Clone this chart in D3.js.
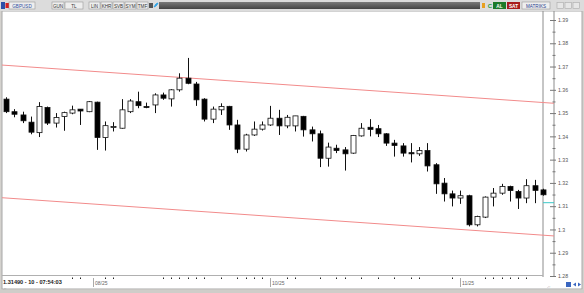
<!DOCTYPE html>
<html>
<head>
<meta charset="utf-8">
<script src="https://cdn.jsdelivr.net/npm/d3@7"></script>
<style>
  body { margin: 0; background: #d4d2ce; }
  svg { display: block; font-family: "Liberation Sans", Arial, sans-serif; }
</style>
</head>
<body>
<svg id="chart"></svg>
<script>
// GBPUSD candles, oldest first
const opens  = [1.3560,1.3506,1.3492,1.3461,1.3416,1.3524,1.3457,1.3485,1.3500,1.3517,1.3506,1.3547,1.3395,1.3438,1.3435,1.3506,1.3549,1.3528,1.3535,1.3578,1.3561,1.3600,1.3650,1.3625,1.3560,1.3474,1.3514,1.3529,1.3449,1.3345,1.3406,1.3431,1.3449,1.3478,1.3445,1.3445,1.3486,1.3428,1.3411,1.3306,1.3349,1.3342,1.3328,1.3402,1.3439,1.3433,1.3411,1.3371,1.3359,1.3330,1.3325,1.3339,1.3278,1.3199,1.3153,1.3135,1.3145,1.3020,1.3053,1.3139,1.3156,1.3185,1.3163,1.3135,1.3188,1.3170];
const highs  = [1.3568,1.3517,1.3506,1.3485,1.3547,1.3528,1.3500,1.3506,1.3532,1.3517,1.3552,1.3549,1.3464,1.3461,1.3560,1.3560,1.3592,1.3545,1.3585,1.3588,1.3603,1.3671,1.3737,1.3634,1.3564,1.3528,1.3542,1.3531,1.3471,1.3411,1.3464,1.3464,1.3531,1.3514,1.3492,1.3488,1.3488,1.3442,1.3425,1.3373,1.3364,1.3354,1.3406,1.3457,1.3474,1.3449,1.3414,1.3385,1.3371,1.3371,1.3354,1.3371,1.3285,1.3221,1.3167,1.3167,1.3149,1.3059,1.3142,1.3178,1.3196,1.3188,1.3170,1.3216,1.3213,1.3175];
const lows   = [1.3500,1.3482,1.3457,1.3409,1.3397,1.3449,1.3438,1.3424,1.3495,1.3449,1.3504,1.3342,1.3339,1.3421,1.3433,1.3500,1.3521,1.3521,1.3500,1.3557,1.3528,1.3592,1.3624,1.3531,1.3464,1.3457,1.3492,1.3428,1.3328,1.3335,1.3402,1.3425,1.3445,1.3406,1.3435,1.3421,1.3399,1.3378,1.3268,1.3270,1.3328,1.3253,1.3325,1.3399,1.3400,1.3397,1.3359,1.3313,1.3313,1.3288,1.3316,1.3249,1.3153,1.3120,1.3099,1.3110,1.3013,1.3013,1.3049,1.3099,1.3149,1.3120,1.3088,1.3113,1.3113,1.3145];
const closes = [1.3506,1.3495,1.3467,1.3418,1.3528,1.3457,1.3481,1.3502,1.3514,1.3509,1.3549,1.3395,1.3446,1.3442,1.3514,1.3552,1.3532,1.3524,1.3578,1.3564,1.3600,1.3650,1.3628,1.3557,1.3474,1.3517,1.3528,1.3449,1.3345,1.3406,1.3431,1.3449,1.3478,1.3445,1.3482,1.3488,1.3428,1.3411,1.3306,1.3354,1.3339,1.3325,1.3404,1.3435,1.3430,1.3411,1.3371,1.3361,1.3328,1.3325,1.3339,1.3273,1.3196,1.3153,1.3135,1.3145,1.3020,1.3056,1.3139,1.3156,1.3185,1.3167,1.3135,1.3188,1.3168,1.3149];

// price axis
const priceTicks = [1.28,1.29,1.30,1.31,1.32,1.33,1.34,1.35,1.36,1.37,1.38,1.39];
// time axis: candle indexes that carry a dot, and month labels
const dotTicks = [8,9,12,13,19,20,21,22,23,24,26,28,29,30,31,34,35,38,40,41,43,45,47,49,50,54,58,59,60,61,62,63];
const monthAt = [10.5, 32, 55];
const monthNames = ["08/25", "10/25", "11/25"];

// channel lines, [candle index, price]
const upperChannel = [[-0.75, 1.3707], [66.4, 1.3542]];
const lowerChannel = [[-0.75, 1.3137], [66.4, 1.2972]];
const lastMark = 1.3115;
const statusText = "1.31490 - 10 - 07:54:03";

const W = 584, H = 293;
const plot = { left: 2, top: 11, right: 543, bottom: 275.5 };
const axisX = 554;

const svg = d3.select("#chart").attr("width", W).attr("height", H);

const x = d3.scaleLinear().domain([0, opens.length - 1]).range([6, 543]);
const y = d3.scaleLinear().domain([1.28, 1.39]).range([276, 20]);

// frame
svg.append("rect").attr("width", W).attr("height", H).attr("fill", "#d4d2ce");
svg.append("rect").attr("x", 2).attr("y", 11).attr("width", 580).attr("height", 278)
  .attr("fill", "#fff").attr("stroke", "#a8a8a8").attr("stroke-width", 1);

// toolbar
const bar = svg.append("g");
bar.append("rect").attr("x", 0).attr("y", 0).attr("width", W).attr("height", 11).attr("fill", "#dcdcdc");
const grad = svg.append("defs").append("linearGradient").attr("id", "dark").attr("x2", 0).attr("y2", 1);
grad.append("stop").attr("offset", 0).attr("stop-color", "#7a7a7a");
grad.append("stop").attr("offset", 1).attr("stop-color", "#444");
bar.append("rect").attr("x", 159).attr("y", 2).attr("width", 321).attr("height", 7).attr("fill", "url(#dark)");
bar.append("rect").attr("x", 1).attr("y", 2).attr("width", 4).attr("height", 7).attr("fill", "#2b4fa8");
bar.append("rect").attr("x", 5.5).attr("y", 3).attr("width", 3.5).attr("height", 5).attr("fill", "#d42020");

const buttons = [
  { x: 9, w: 26, t: "GBPUSD", c: "#3050a0" },
  { x: 52, w: 12, t: "GUN", c: "#333" },
  { x: 65, w: 18, t: "TL", c: "#333" },
  { x: 89, w: 11, t: "LIN", c: "#333" },
  { x: 101, w: 11, t: "KHR", c: "#333" },
  { x: 113, w: 11, t: "SVB", c: "#333" },
  { x: 125, w: 11, t: "SYM", c: "#333" },
  { x: 137, w: 11, t: "TMF", c: "#333" },
  { x: 522, w: 28, t: "MATRIKS", c: "#2a3f8f" }
];
buttons.forEach(b => {
  bar.append("rect").attr("x", b.x).attr("y", 2).attr("width", b.w).attr("height", 7)
    .attr("fill", "#eee").attr("stroke", "#999").attr("stroke-width", 0.6);
  bar.append("text").attr("x", b.x + b.w / 2).attr("y", 7.6).attr("text-anchor", "middle")
    .attr("font-size", 4.6).attr("fill", b.c).text(b.t);
});
bar.append("rect").attr("x", 149).attr("y", 3).attr("width", 4).attr("height", 5).attr("fill", "#555");
bar.append("path").attr("d", "M154,7 q3,-1 4,-4 l-2,1 z").attr("fill", "#2ea3e6").attr("stroke", "#2ea3e6");
bar.append("rect").attr("x", 482).attr("y", 3).attr("width", 3).attr("height", 5).attr("fill", "#e8a020");
bar.append("text").attr("x", 490).attr("y", 8).attr("text-anchor", "middle").attr("font-size", 6)
  .attr("font-weight", "bold").attr("fill", "#2a9a40").text("C");
bar.append("rect").attr("x", 493).attr("y", 2).attr("width", 13).attr("height", 7).attr("fill", "#1d7a2a");
bar.append("text").attr("x", 499.5).attr("y", 7.6).attr("text-anchor", "middle").attr("font-size", 4.8)
  .attr("font-weight", "bold").attr("fill", "#fff").text("AL");
bar.append("rect").attr("x", 507).attr("y", 2).attr("width", 13).attr("height", 7).attr("fill", "#a81c1c");
bar.append("text").attr("x", 513.5).attr("y", 7.6).attr("text-anchor", "middle").attr("font-size", 4.8)
  .attr("font-weight", "bold").attr("fill", "#fff").text("SAT");
[557, 565, 573].forEach(bx => {
  bar.append("rect").attr("x", bx).attr("y", 2.5).attr("width", 6.5).attr("height", 6)
    .attr("fill", "#e6e6e6").attr("stroke", "#aaa").attr("stroke-width", 0.6);
});

// plot borders
svg.append("line").attr("x1", plot.right).attr("x2", plot.right).attr("y1", plot.top).attr("y2", 277)
  .attr("stroke", "#8c8c8c");
svg.append("line").attr("x1", axisX).attr("x2", axisX).attr("y1", plot.top).attr("y2", 277)
  .attr("stroke", "#8c8c8c");
svg.append("line").attr("x1", plot.left).attr("x2", plot.right).attr("y1", plot.bottom).attr("y2", plot.bottom)
  .attr("stroke", "#b0b0b0");

// channel lines
svg.append("clipPath").attr("id", "clip").append("rect")
  .attr("x", plot.left).attr("y", plot.top).attr("width", axisX - plot.left).attr("height", plot.bottom - plot.top);
const line = d3.line().x(d => x(d[0])).y(d => y(d[1]));
[upperChannel, lowerChannel].forEach(ch => {
  svg.append("path").attr("clip-path", "url(#clip)").attr("d", line(ch))
    .attr("fill", "none").attr("stroke", "#f28b8b").attr("stroke-width", 1);
});

// candles
const candles = opens.map((o, i) => ({ i, o, h: highs[i], l: lows[i], c: closes[i] }));
const g = svg.append("g").attr("clip-path", "url(#clip)");
const bodyW = 5;
g.selectAll("line.wick").data(candles).enter().append("line")
  .attr("class", "wick")
  .attr("x1", d => Math.round(x(d.i)) + 0.5).attr("x2", d => Math.round(x(d.i)) + 0.5)
  .attr("y1", d => y(d.h)).attr("y2", d => y(d.l))
  .attr("stroke", "#111").attr("stroke-width", 1);
g.selectAll("rect.body").data(candles).enter().append("rect")
  .attr("class", "body")
  .attr("x", d => Math.round(x(d.i)) - 2)
  .attr("y", d => y(Math.max(d.o, d.c)))
  .attr("width", bodyW)
  .attr("height", d => Math.max(1, Math.abs(y(d.o) - y(d.c))))
  .attr("fill", d => d.c < d.o ? "#000" : "#fff")
  .attr("stroke", "#111").attr("stroke-width", 0.8);

// last price mark
svg.append("line").attr("x1", plot.right).attr("x2", axisX).attr("y1", y(lastMark)).attr("y2", y(lastMark))
  .attr("stroke", "#3cc8c8");

// price axis
const yAxis = svg.append("g").attr("transform", `translate(${axisX - 4},0)`)
  .call(d3.axisRight(y).tickValues(priceTicks).tickSize(6).tickPadding(2)
    .tickFormat(d => String(+d.toFixed(2))));
yAxis.select(".domain").remove();
yAxis.selectAll("line").attr("stroke", "#777");
yAxis.selectAll("text").attr("font-size", 5.2).attr("fill", "#555");

const minor = priceTicks.slice(0, -1).map(v => v + 0.005);
const yMinor = svg.append("g").attr("transform", `translate(${axisX - 1.5},0)`)
  .call(d3.axisRight(y).tickValues(minor).tickSize(3).tickFormat(""));
yMinor.select(".domain").remove();
yMinor.selectAll("line").attr("stroke", "#777");

// time axis
svg.selectAll("rect.dot").data(dotTicks).enter().append("rect")
  .attr("class", "dot")
  .attr("x", d => Math.round(x(d)))
  .attr("y", 277.5).attr("width", 1).attr("height", 1.5)
  .attr("fill", "#222");
monthAt.forEach((m, k) => {
  const mx = Math.round(x(m)) + 0.5;
  svg.append("line").attr("x1", mx).attr("x2", mx).attr("y1", 278).attr("y2", 287)
    .attr("stroke", "#aaa");
  svg.append("text").attr("x", mx + 1.5).attr("y", 285).attr("font-size", 5)
    .attr("fill", "#666").text(monthNames[k]);
});

// status line
svg.append("text").attr("x", 3).attr("y", 284).attr("font-size", 5.6).attr("font-weight", "bold")
  .attr("fill", "#222").text(statusText);
svg.append("text").attr("x", 3).attr("y", 289.5).attr("font-size", 4).attr("fill", "#666").text(".::");
svg.append("text").attr("x", 547).attr("y", 287.5).attr("font-size", 4).attr("fill", "#666").text(".::");
svg.append("rect").attr("x", 566).attr("y", 282).attr("width", 5).attr("height", 5).attr("fill", "#3a66c0");
svg.append("path").attr("d", "M573,284.5 l3,-2 v4 z M581,284.5 l-3,-2 v4 z").attr("fill", "#3a66c0");

// bottom bar
svg.append("rect").attr("x", 0).attr("y", 289.5).attr("width", W).attr("height", 3.5).attr("fill", "#cfcdc9");
</script>
</body>
</html>
